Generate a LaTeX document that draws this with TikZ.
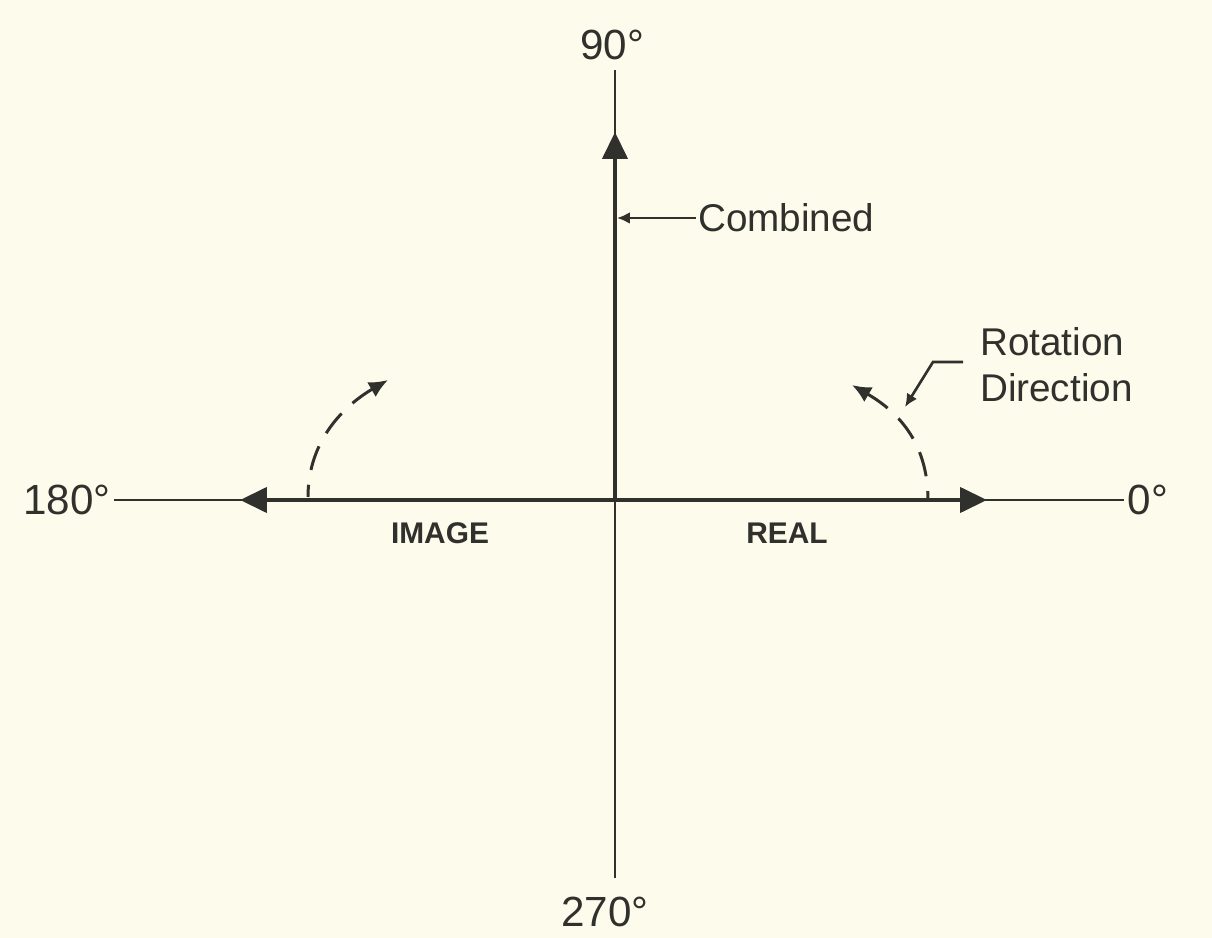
\documentclass[tikz,border=0pt]{standalone}
\usepackage{fontspec}
\setmainfont{Liberation Sans}
\usepackage{xcolor}
\usetikzlibrary{arrows.meta,positioning,calc}
\definecolor{paper}{RGB}{252,251,236}
\definecolor{ink}{RGB}{48,48,44}

\begin{document}
\begin{tikzpicture}[
  font=\fontsize{22}{26}\selectfont,
  >={Triangle[length=5.4mm,width=5mm]},
  axis/.style={draw=ink, line width=1.6pt},
  vec/.style={->, draw=ink, line width=2.4pt},
  deg/.style={text=ink, font=\fontsize{24}{28}\selectfont, inner sep=2pt},
  word/.style={text=ink, align=left, inner sep=1pt},
  part/.style={text=ink, font=\bfseries\fontsize{17}{20}\selectfont},
  turn/.style={{Latex[length=3.8mm,width=3.4mm]}-, draw=ink, line width=1.7pt, dash pattern=on 5mm off 3mm},
  leader/.style={-{Latex[length=2.6mm,width=2.4mm]}, draw=ink, line width=1.5pt}
]

% Frame
\fill[paper] (-12.3,-8.76) rectangle (11.94,10);
\useasboundingbox (-12.3,-8.76) rectangle (11.94,10);

% Geometry
\coordinate (o) at (0,0);
\coordinate (tipN) at (0,7.36);
\coordinate (tipW) at (-7.5,0);
\coordinate (tipE) at (7.44,0);

% Degree labels
\node[deg] (l90) at (-0.06,9.1) {90°};
\node[deg] (l270) at (-0.2,-8.24) {270°};
\node[deg] (l180) at (-10.96,0) {180°};
\node[deg] (l0) at (10.66,0) {0°};

% Axes
\draw[axis] (o) -- (0,8.6);
\draw[axis] (o) -- (0,-7.56);
\draw[axis] (o) -- (l180.east);
\draw[axis] (o) -- (l0.west);

% Vectors
\draw[vec] (o) -- (tipN);
\draw[vec] (o) -- (tipW);
\draw[vec] (o) -- (tipE);

% Axis names
\node[part] (image) at (-3.5,-0.66) {IMAGE};
\node[part] (real) at (3.44,-0.66) {REAL};

% Combined
\node[word, anchor=west] (comb) at (1.62,5.64) {Combined};
\coordinate (combAt) at (0.04,5.64);
\draw[leader] (comb.west) -- (combAt);

% Rotation arcs (drawn from the tip so the dashes end solid there)
\coordinate (rotE) at (6.26,0);
\coordinate (rotEend) at (4.74,2.3);
\coordinate (rotW) at (-6.14,0.06);
\coordinate (rotWend) at (-4.54,2.4);
\draw[turn] (rotEend) .. controls (5.6,1.8) and (6.26,1.2) .. (rotE);
\draw[turn] (rotWend) .. controls (-5.4,1.9) and (-6.14,1.2) .. (rotW);

% Rotation Direction
\node[word, anchor=west] (rotdir) at (7.26,2.7) {Rotation\\Direction};
\coordinate (bend) at (6.36,2.76);
\coordinate (rotAt) at (5.8,1.86);
\draw[leader] ([xshift=-0.3cm]rotdir.west |- bend) -- (bend) -- (rotAt);

\end{tikzpicture}
\end{document}
